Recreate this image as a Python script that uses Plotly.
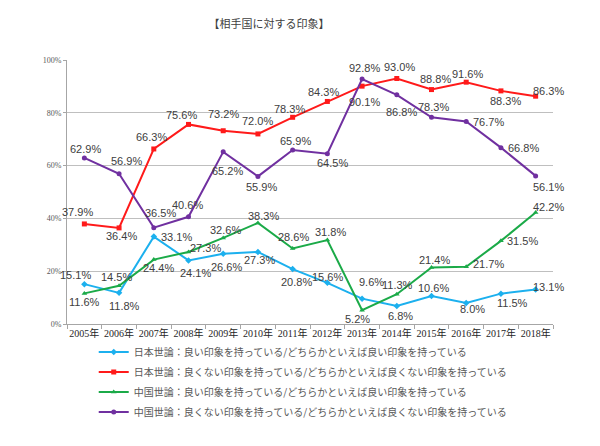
import plotly.graph_objects as go

years = ["2005年", "2006年", "2007年", "2008年", "2009年", "2010年", "2011年",
         "2012年", "2013年", "2014年", "2015年", "2016年", "2017年", "2018年"]

jp_good = [15.1, 11.8, 33.1, 24.1, 26.6, 27.3, 20.8, 15.6, 9.6, 6.8, 10.6, 8.0, 11.5, 13.1]
jp_bad = [37.9, 36.4, 66.3, 75.6, 73.2, 72.0, 78.3, 84.3, 90.1, 93.0, 88.8, 91.6, 88.3, 86.3]
cn_good = [11.6, 14.5, 24.4, 27.3, 32.6, 38.3, 28.6, 31.8, 5.2, 11.3, 21.4, 21.7, 31.5, 42.2]
cn_bad = [62.9, 56.9, 36.5, 40.6, 65.2, 55.9, 65.9, 64.5, 92.8, 86.8, 78.3, 76.7, 66.8, 56.1]

names = [
    "日本世論：良い印象を持っている/どちらかといえば良い印象を持っている",
    "日本世論：良くない印象を持っている/どちらかといえば良くない印象を持っている",
    "中国世論：良い印象を持っている/どちらかといえば良い印象を持っている",
    "中国世論：良くない印象を持っている/どちらかといえば良くない印象を持っている",
]

# label offsets (pixels, dx right, dy down) -- styling only
off_jp_good = [(-9, -9), (5, 13), (23, 0), (7, 13), (3, 13), (2, 8), (4, 13), (0, -6),
               (9, -17), (4, 10), (2, -8), (6, 6), (12, 9), (13, -2)]
off_jp_bad = [(-7, -12), (2, 8), (-2, -12), (-7, -9), (0, -17), (0, -13), (-3, -8), (-4, -9),
              (2, 16), (3, -11), (4, -11), (1, -8), (5, 10), (13, -5)]
off_cn_good = [(0, 9), (-3, -9), (5, 8), (17, -4), (2, -8), (6, -7), (1, -12), (3, -8),
               (-5, 9), (1, -9), (3, -8), (22, -3), (22, 0), (13, -6)]
off_cn_bad = [(1, -9), (7, -13), (7, -15), (-1, -12), (4, 19), (4, 11), (3, -9), (5, 9),
              (2, -11), (5, 17), (2, -10), (22, 0), (23, 0), (13, 11)]

series = [
    (jp_good, off_jp_good, "#1CB0EE", "diamond"),
    (jp_bad, off_jp_bad, "#FF1A1A", "square"),
    (cn_good, off_cn_good, "#1BAA48", "triangle-up"),
    (cn_bad, off_cn_bad, "#7030A0", "circle"),
]

fig = go.Figure()
annotations = []
for i, ((vals, offs, color, sym), name) in enumerate(zip(series, names)):
    fig.add_trace(go.Scatter(
        x=years, y=vals, name=name, mode="lines+markers", legendgroup=f"g{i}",
        line=dict(color=color, width=2),
        marker=dict(color=color, symbol=sym, size=5),
    ))
    for yr, v, (dx, dy) in zip(years, vals, offs):
        annotations.append(dict(
            x=yr, y=v, xref="x", yref="y", text=f"{v:.1f}%", showarrow=False,
            xshift=dx, yshift=-dy,
            font=dict(family="Liberation Sans, Arial", size=11, color="#404040"),
        ))

fig.update_layout(
    width=600, height=446,
    margin=dict(l=67, r=47, t=60, b=122),
    paper_bgcolor="white", plot_bgcolor="white",
    showlegend=True,
    title=dict(
        text="【相手国に対する印象】", x=269 / 600, xanchor="center", xref="container",
        y=1 - 24 / 446, yanchor="middle", yref="container",
        font=dict(family="Noto Sans CJK JP", size=11, color="#404040"),
    ),
    legend=dict(
        x=0.055, y=-0.051, xanchor="left", yanchor="top",
        font=dict(family="Noto Sans CJK JP", size=10, color="#595959"),
        bgcolor="rgba(0,0,0,0)", itemwidth=30, tracegroupgap=1,
    ),
    annotations=annotations,
)

fig.update_xaxes(
    type="category", showgrid=False, showline=True, linecolor="#A6A6A6", linewidth=1,
    ticks="outside", ticklen=4, tickcolor="#A6A6A6", tickson="boundaries",
    tickangle=0,
    tickfont=dict(family="Liberation Serif, Noto Sans CJK JP", size=10, color="#262626"),
    range=[-0.5, 13.5], fixedrange=True,
)
fig.update_yaxes(
    range=[0, 100], tickvals=[0, 20, 40, 60, 80, 100],
    ticktext=["0%", "20%", "40%", "60%", "80%", "100%"],
    showgrid=True, gridcolor="#BFBFBF", gridwidth=1,
    showline=True, linecolor="#A6A6A6", linewidth=1,
    ticks="outside", ticklen=3, tickcolor="#A6A6A6",
    tickfont=dict(family="Liberation Serif", size=8, color="#595959"),
    zeroline=False,
)

fig.write_html("out.html", config={"displayModeBar": False},
               post_script="document.body.style.margin='0';")
